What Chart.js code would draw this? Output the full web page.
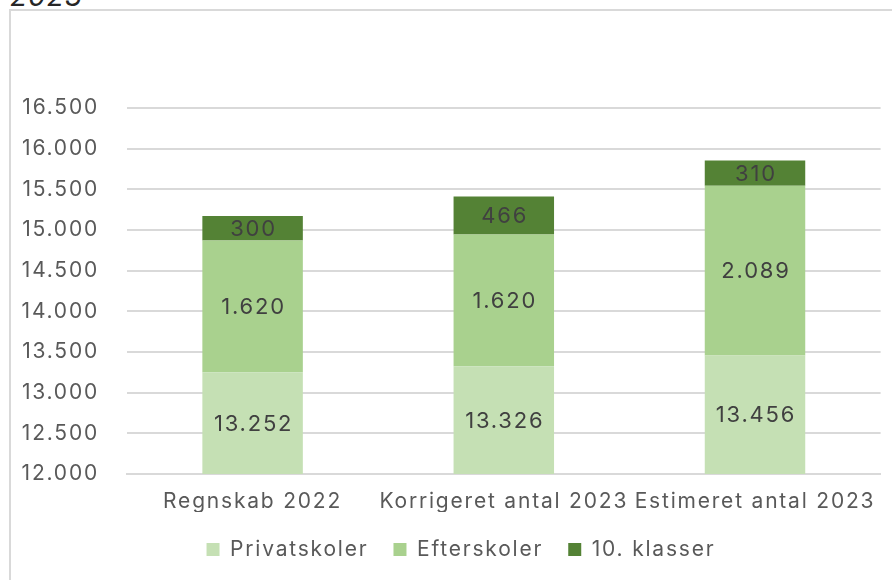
<!DOCTYPE html>
<html>
<head>
<meta charset="utf-8">
<script src="https://cdn.jsdelivr.net/npm/chart.js@4"></script>
<style>
    body { margin: 0; width: 892px; height: 580px; overflow: hidden; background: #fff; position: relative; font-family: Inter, sans-serif; }
    #frame { position: absolute; left: 9px; top: 9px; width: 920px; height: 620px; border: 2px solid #d9d9d9; box-sizing: border-box; }
    #title { position: absolute; left: 10px; top: -21px; font-size: 28px; font-style: italic; color: #262626; letter-spacing: 1px; }
    #wrap { position: absolute; left: 0; top: 0; width: 892px; height: 580px; }
</style>
</head>
<body>
<div id="title">2023</div>
<div id="frame"></div>
<div id="wrap"><canvas id="chart"></canvas></div>
<script>
// Data
const categories = ['Regnskab 2022', 'Korrigeret antal 2023', 'Estimeret antal 2023'];
const privatskoler = [13252, 13326, 13456];
const efterskoler = [1620, 1620, 2089];
const tiendeKlasser = [300, 466, 310];
const yMin = 12000;
const yMax = 16500;
const yStep = 500;

const FONT = "Inter, sans-serif";
const SPACING = '1.8px';

// Danish thousands separator
function fmt(v) {
    return String(Math.round(v)).replace(/\B(?=(\d{3})+(?!\d))/g, '.');
}

// wider letters, like the original font (canvas resets this on resize)
const letterSpacing = {
    id: 'letterSpacing',
    beforeUpdate(chart) { chart.ctx.letterSpacing = SPACING; },
    beforeDraw(chart) { chart.ctx.letterSpacing = SPACING; }
};

// legend in the original sits a bit right of the canvas centre
const legendNudge = {
    id: 'legendNudge',
    afterLayout(chart) {
        const lg = chart.legend;
        if (!lg) return;
        lg.left += 15; lg.right += 15;
        lg.top += 2; lg.bottom += 2;
    }
};

// Draw the value in the middle of each bar segment
const segmentLabels = {
    id: 'segmentLabels',
    afterDatasetsDraw(chart) {
        const ctx = chart.ctx;
        ctx.save();
        ctx.font = '22px ' + FONT;
        ctx.fillStyle = '#404040';
        ctx.textAlign = 'center';
        ctx.textBaseline = 'middle';
        chart.data.datasets.forEach((ds, i) => {
            const meta = chart.getDatasetMeta(i);
            meta.data.forEach((bar, j) => {
                const top = Math.min(bar.y, bar.base);
                const bottom = Math.min(Math.max(bar.y, bar.base), chart.chartArea.bottom);
                ctx.fillText(fmt(ds.data[j]), bar.x + 1, (top + bottom) / 2 + 1);
            });
        });
        ctx.restore();
    }
};

const ctx = document.getElementById('chart').getContext('2d');
new Chart(ctx, {
    type: 'bar',
    data: {
        labels: categories,
        datasets: [
            { label: 'Privatskoler', data: privatskoler, backgroundColor: '#c5e0b4' },
            { label: 'Efterskoler', data: efterskoler, backgroundColor: '#a9d18e' },
            { label: '10. klasser', data: tiendeKlasser, backgroundColor: '#548235' }
        ]
    },
    options: {
        responsive: true,
        maintainAspectRatio: false,
        animation: false,
        datasets: { bar: { barPercentage: 0.8, categoryPercentage: 0.5, borderWidth: 0 } },
        layout: { padding: { top: 108, right: 10, left: 10, bottom: 16 } },
        plugins: {
            legend: {
                position: 'bottom',
                maxHeight: 52,
                labels: {
                    color: '#595959',
                    font: { family: FONT, size: 21 },
                    boxWidth: 13,
                    boxHeight: 13,
                    padding: 25
                }
            },
            tooltip: { enabled: false }
        },
        scales: {
            x: {
                stacked: true,
                afterFit: (scale) => { scale.height = 38; },
                grid: { display: false, drawTicks: false },
                border: { color: '#d9d9d9', width: 2 },
                ticks: { color: '#595959', font: { family: FONT, size: 21 }, padding: 15, maxRotation: 0, autoSkip: false }
            },
            y: {
                stacked: true,
                min: yMin,
                max: yMax,
                afterFit: (scale) => { scale.width = 117; },
                grid: { color: '#d9d9d9', lineWidth: 2, drawTicks: false },
                border: { display: false },
                ticks: {
                    stepSize: yStep,
                    color: '#595959',
                    font: { family: FONT, size: 21 },
                    padding: 28,
                    callback: (v) => fmt(v)
                }
            }
        }
    },
    plugins: [letterSpacing, legendNudge, segmentLabels]
});
</script>
</body>
</html>
